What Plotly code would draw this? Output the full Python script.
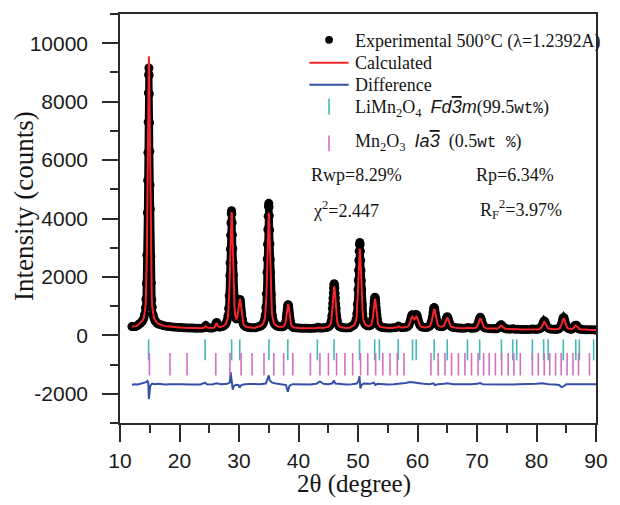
import plotly.graph_objects as go

# ---------------- data ----------------
two_theta_obs = [
    12.0, 12.25, 12.5, 12.75, 13.0, 13.2, 13.45, 13.7, 13.85, 14.03, 14.15, 14.28, 14.36, 14.44, 14.52, 14.6, 14.65, 14.69, 14.73, 14.77, 14.81, 14.85,
    14.89, 14.93, 14.97, 15.01, 15.05, 15.1, 15.18, 15.26, 15.34, 15.42, 15.55, 15.67, 15.85, 16.0, 16.25, 16.5,
    16.75, 17.25, 17.75, 18.25, 18.75, 19.25, 19.75, 20.25, 20.75, 21.25, 21.75, 22.25, 22.75, 23.25, 23.75, 24.1, 24.4, 24.7, 25.1, 25.5, 25.9, 26.1, 26.25, 26.45, 26.75, 27.15, 27.35,
    27.55, 27.75, 27.9, 28.05, 28.15, 28.25, 28.35, 28.45, 28.5, 28.55, 28.6, 28.65, 28.7, 28.75,
    28.8, 28.85, 28.9, 28.95, 29.0, 29.05, 29.15, 29.25, 29.35, 29.45, 29.55, 29.65, 29.75, 29.85, 29.9, 29.95, 30.0, 30.05, 30.1, 30.15, 30.2, 30.25, 30.3, 30.35, 30.4, 30.45, 30.55, 30.65, 30.75, 30.85, 31.0, 31.15, 31.35, 31.55, 31.85,
    32.2, 32.7, 33.0, 33.3, 33.6, 33.8, 34.0, 34.15, 34.3, 34.4, 34.5, 34.6, 34.7, 34.75, 34.8, 34.85, 34.9, 34.95, 35.0,
    35.05, 35.1, 35.15, 35.2, 35.25, 35.3, 35.4, 35.5, 35.6, 35.7, 35.85, 36.0, 36.2, 36.4, 36.7, 37.0,
    37.25, 37.4, 37.55, 37.65, 37.75, 37.85, 37.95, 38.0, 38.05, 38.1, 38.15, 38.2, 38.25, 38.3, 38.35, 38.4, 38.45, 38.5, 38.55, 38.65, 38.75, 38.85, 38.95, 39.1, 39.25, 39.6,
    40.0, 40.5, 41.0, 41.5, 42.0, 42.5, 43.0, 43.3, 43.6, 44.0, 44.3,
    44.6, 44.8, 45.0, 45.15, 45.3, 45.4, 45.5, 45.6, 45.7, 45.75, 45.8, 45.85, 45.9, 45.95, 46.0, 46.05, 46.1, 46.15, 46.2, 46.25, 46.3, 46.4, 46.5, 46.6, 46.7, 46.85, 47.0, 47.2, 47.4, 47.7, 48.1, 48.6,
    48.9, 49.1, 49.3, 49.45, 49.6, 49.7, 49.8, 49.9, 50.0, 50.05, 50.1, 50.15, 50.2, 50.25, 50.3,
    50.35, 50.4, 50.45, 50.5, 50.55, 50.6, 50.7, 50.8, 50.9, 51.0, 51.15, 51.3, 51.5, 51.65, 51.85, 52.0, 52.15, 52.25, 52.35, 52.45, 52.55, 52.6, 52.65, 52.7, 52.75, 52.8, 52.85,
    52.9, 52.95, 53.0, 53.05, 53.1, 53.15, 53.25, 53.35, 53.45, 53.55, 53.7, 53.85, 54.05, 54.25, 54.5, 55.0, 55.5, 56.0, 56.4, 56.8, 57.2, 57.6,
    58.0, 58.3, 58.5, 58.65, 58.75, 58.85, 58.95, 59.05, 59.15, 59.25, 59.35, 59.475, 59.6, 59.7, 59.8, 59.9, 60.0, 60.1, 60.2, 60.3, 60.45, 60.65, 60.95,
    61.3, 61.6, 61.8, 62.0, 62.1, 62.2, 62.3, 62.4, 62.5, 62.6, 62.7, 62.75, 62.8, 62.85, 62.9, 63.0, 63.1, 63.2, 63.3, 63.4, 63.5, 63.6, 63.8,
    64.0, 64.2, 64.3, 64.4, 64.5, 64.6, 64.7, 64.8, 64.9, 65.0, 65.1, 65.2, 65.3, 65.4, 65.5, 65.6, 65.7, 65.85, 66.0, 66.3, 66.7, 67.1, 67.5, 68.0, 68.5, 69.0, 69.3,
    69.55, 69.75, 69.85, 69.95, 70.05, 70.15, 70.25, 70.35, 70.45, 70.55, 70.65, 70.75, 70.85, 70.95, 71.05, 71.15, 71.25, 71.35, 71.55, 71.9, 72.3, 72.7, 73.0,
    73.25, 73.45, 73.65, 73.75, 73.85, 73.95, 74.05, 74.15, 74.25, 74.35, 74.45, 74.65, 74.85, 75.2, 75.6, 76.0, 76.4, 76.9, 77.4, 77.9, 78.4, 78.9, 79.3, 79.7, 80.0,
    80.3, 80.5, 80.7, 80.8, 80.9, 81.0, 81.1, 81.2, 81.3, 81.4, 81.5, 81.6, 81.7, 81.8, 81.9, 82.1, 82.3, 82.7, 83.1,
    83.35, 83.55, 83.75, 83.95, 84.05, 84.15, 84.25, 84.35, 84.45, 84.55, 84.65, 84.75, 84.85, 84.95, 85.05, 85.15, 85.35, 85.55,
    85.75, 85.95, 86.1, 86.2, 86.3, 86.4, 86.5, 86.6, 86.7, 86.8, 86.9, 87.0, 87.1, 87.25, 87.45, 87.8, 88.3, 88.8, 89.3, 89.8, 90.0,
]

intensity_obs = [
    300, 300, 305, 315, 345, 389, 415, 468, 521, 610, 725, 946, 1238, 1778, 2743, 4200, 5300, 6256, 7300, 8300, 8920, 9150,
    8900, 8260, 7280, 6300, 5150, 4320, 2700, 1800, 1220, 960, 720, 615, 515, 470, 412, 390,
    370, 335, 315, 300, 290, 281, 273, 266, 262, 256, 252, 248, 245, 243, 247, 262, 335, 268, 250, 250, 276, 398, 442, 330, 280, 300, 318,
    347, 387, 440, 541, 674, 920, 1358, 2048, 2479, 2953, 3427, 3853, 4163, 4268,
    4165, 3858, 3435, 2963, 2493, 2065, 1381, 952, 718, 603, 563, 576, 645, 790, 860, 955, 1050, 1145, 1212, 1228, 1200, 1125, 1025, 915, 805, 723, 553, 444, 382, 346, 316, 300, 284, 274, 264,
    258, 262, 280, 296, 321, 347, 390, 445, 552, 694, 955, 1421, 2157, 2615, 3120, 3625, 4079, 4409, 4520,
    4400, 4090, 3610, 3130, 2600, 2170, 1410, 960, 690, 555, 445, 390, 347, 321, 300, 292,
    295, 300, 318, 340, 390, 471, 603, 690, 785, 881, 967, 1029, 1050, 1029, 967, 881, 785, 690, 603, 464, 375, 326, 299, 279, 268, 256,
    248, 243, 240, 240, 238, 241, 250, 278, 252, 252, 262,
    269, 278, 294, 313, 352, 402, 496, 662, 925, 1089, 1270, 1450, 1612, 1730, 1770, 1725, 1620, 1440, 1280, 1080, 930, 655, 500, 400, 352, 313, 294, 278, 269, 262, 255, 262,
    305, 323, 353, 392, 467, 564, 743, 1063, 1567, 1880, 2227, 2572, 2883, 3108, 3180,
    3104, 2879, 2569, 2224, 1878, 1565, 1063, 745, 567, 471, 399, 364, 338, 327, 329, 333, 353, 386, 445, 556, 733, 844, 966, 1089, 1198, 1278, 1303,
    1276, 1194, 1083, 959, 835, 723, 541, 428, 363, 328, 300, 286, 275, 268, 260, 252, 252, 258, 268, 318, 272, 268,
    278, 296, 332, 398, 463, 541, 629, 694, 707, 670, 624, 595, 624, 670, 707, 694, 629, 541, 463, 398, 332, 296, 278,
    268, 279, 288, 309, 331, 366, 429, 519, 634, 773, 894, 936, 950, 936, 894, 773, 634, 519, 429, 374, 340, 319, 302,
    297, 303, 312, 329, 361, 409, 469, 543, 608, 638, 606, 540, 466, 405, 357, 320, 300, 283, 276, 265, 254, 248, 244, 246, 268, 245, 250,
    249, 260, 273, 292, 328, 378, 443, 521, 589, 620, 589, 521, 443, 378, 328, 292, 273, 260, 249, 238, 230, 226, 226,
    226, 238, 270, 294, 323, 348, 360, 348, 323, 294, 270, 238, 226, 218, 212, 228, 210, 206, 203, 201, 200, 203, 216, 205, 207,
    214, 223, 246, 273, 310, 358, 416, 467, 490, 467, 416, 358, 310, 273, 255, 235, 218, 208, 206,
    210, 215, 227, 261, 299, 353, 421, 504, 577, 610, 577, 504, 421, 356, 303, 266, 234, 226,
    210, 219, 236, 255, 279, 310, 337, 349, 336, 308, 278, 253, 234, 219, 208, 198, 192, 190, 188, 186, 186,
]

intensity_calc = [
    300, 300, 305, 315, 345, 393, 420, 476, 531, 624, 744, 975, 1281, 1845, 2853, 4444, 5434, 6525, 7617, 8597, 9310, 9550,
    9310, 8597, 7617, 6525, 5434, 4444, 2853, 1845, 1281, 975, 744, 624, 531, 476, 420, 393,
    368, 333, 313, 299, 289, 280, 273, 266, 261, 256, 252, 248, 245, 243, 247, 258, 320, 265, 250, 250, 272, 382, 422, 324, 279, 298, 316,
    346, 385, 438, 538, 669, 912, 1345, 2027, 2454, 2920, 3390, 3810, 4115, 4218,
    4117, 3815, 3397, 2931, 2466, 2043, 1368, 945, 715, 603, 566, 582, 657, 811, 880, 980, 1085, 1185, 1235, 1250, 1225, 1150, 1050, 935, 825, 720, 566, 452, 387, 349, 318, 302, 285, 275, 264,
    258, 261, 278, 291, 315, 339, 379, 430, 529, 660, 901, 1333, 2014, 2438, 2905, 3372, 3792, 4097, 4200,
    4097, 3792, 3372, 2905, 2438, 2014, 1333, 901, 660, 529, 430, 379, 339, 315, 295, 290,
    293, 298, 319, 342, 393, 478, 616, 706, 805, 904, 993, 1058, 1080, 1058, 993, 904, 805, 706, 616, 472, 380, 329, 301, 280, 269, 256,
    248, 243, 240, 240, 239, 241, 250, 270, 252, 252, 261,
    267, 276, 290, 309, 345, 393, 480, 637, 885, 1039, 1209, 1379, 1532, 1643, 1680, 1643, 1532, 1379, 1209, 1039, 885, 637, 480, 393, 345, 309, 290, 276, 267, 260, 254, 262,
    300, 318, 345, 382, 451, 542, 708, 1005, 1473, 1764, 2085, 2406, 2694, 2903, 2970,
    2900, 2690, 2402, 2082, 1762, 1471, 1004, 709, 545, 455, 388, 356, 332, 322, 323, 328, 345, 375, 434, 541, 710, 815, 932, 1048, 1153, 1228, 1253,
    1226, 1150, 1044, 926, 806, 700, 527, 418, 356, 323, 296, 283, 273, 267, 260, 252, 252, 258, 266, 305, 270, 267,
    275, 290, 321, 377, 433, 500, 575, 631, 642, 610, 571, 546, 571, 610, 642, 631, 575, 500, 433, 377, 321, 290, 275,
    267, 278, 286, 305, 326, 358, 416, 500, 607, 736, 848, 887, 900, 887, 848, 736, 607, 500, 416, 364, 334, 314, 298,
    294, 299, 307, 322, 350, 393, 447, 514, 573, 608, 571, 511, 444, 389, 346, 312, 296, 281, 275, 264, 254, 248, 244, 246, 262, 245, 249,
    247, 257, 268, 286, 318, 363, 421, 491, 552, 580, 552, 491, 421, 363, 318, 286, 268, 257, 247, 237, 230, 226, 225,
    224, 234, 261, 280, 304, 325, 335, 325, 304, 280, 261, 234, 224, 217, 212, 222, 210, 206, 203, 201, 200, 203, 212, 205, 207,
    212, 220, 242, 265, 299, 342, 394, 439, 460, 439, 394, 342, 299, 265, 250, 232, 216, 207, 205,
    209, 213, 225, 257, 291, 341, 405, 482, 549, 580, 549, 482, 405, 344, 295, 262, 232, 223,
    208, 217, 232, 249, 271, 299, 323, 334, 322, 298, 270, 248, 231, 217, 207, 197, 191, 189, 187, 185, 185,
]

two_theta_diff = [
    12.0, 12.5, 13.0, 13.5, 14.0, 14.4, 14.6, 14.75, 14.85, 14.95, 15.1, 15.4, 15.8, 16.5, 17.5, 18.5,
    19.5, 20.5, 21.5, 22.5, 23.5, 24.3, 24.6, 25.5, 26.2, 27.0, 28.0, 28.45, 28.6, 28.7, 28.8, 28.95,
    29.1, 29.5, 29.9, 30.1, 30.3, 30.7, 31.5, 32.5, 33.5, 34.5, 34.85, 35.0, 35.15, 35.5, 36.0, 37.0,
    37.9, 38.2, 38.5, 39.0, 40.0, 41.0, 42.0, 43.0, 43.6, 44.2, 45.0, 45.7, 45.95, 46.2, 47.0, 48.0,
    49.0, 49.8, 50.1, 50.25, 50.4, 50.6, 51.0, 52.0, 52.7, 52.9, 53.3, 54.0, 55.0, 56.0, 57.0, 58.0,
    58.8, 59.5, 60.0, 61.0, 62.0, 62.7, 62.9, 63.5, 64.5, 65.0, 66.0, 67.0, 68.0, 69.0, 70.0, 70.5,
    71.0, 72.0, 73.0, 74.0, 75.0, 76.0, 77.0, 78.0, 79.0, 80.0, 81.0, 81.5, 82.0, 83.0, 83.8, 84.2,
    84.6, 85.0, 86.0, 87.0, 88.0, 89.0, 90.0,
]

intensity_diff = [
    -1690, -1670, -1685, -1660, -1640, -1600, -1560, -1620, -2180, -1950, -1720, -1650, -1670, -1660, -1680, -1670,
    -1685, -1675, -1680, -1670, -1680, -1620, -1670, -1680, -1640, -1670, -1660, -1620, -1260, -1450, -1780, -1860,
    -1740, -1690, -1700, -1790, -1720, -1680, -1665, -1675, -1670, -1650, -1480, -1370, -1530, -1610, -1640, -1660,
    -1700, -1930, -1720, -1670, -1680, -1670, -1680, -1660, -1580, -1660, -1670, -1640, -1540, -1650, -1670, -1680,
    -1670, -1650, -1560, -1400, -1820, -1690, -1650, -1660, -1620, -1700, -1660, -1670, -1680, -1670, -1660, -1630,
    -1600, -1620, -1650, -1660, -1670, -1640, -1700, -1670, -1660, -1640, -1670, -1680, -1670, -1675, -1660, -1630,
    -1670, -1675, -1680, -1660, -1675, -1680, -1670, -1675, -1665, -1660, -1640, -1660, -1670, -1680, -1700, -1770,
    -1740, -1670, -1660, -1670, -1675, -1680, -1670,
]

limn2o4_reflections = [
    14.8, 24.3, 28.76, 30.13, 35.03, 38.2, 43.17, 45.97, 50.26, 52.8, 53.6, 56.75, 59.17, 59.78,
    62.8, 65.0, 68.4, 70.45, 74.1, 76.0, 76.67, 79.3, 81.2, 81.95, 84.5, 86.6, 87.2, 89.6,
]

mn2o3_reflections = [
    14.95, 18.4, 21.27, 26.1, 28.48, 30.35, 32.2, 34.2, 35.85, 37.5, 39.04, 42.0, 43.6, 45.03,
    46.4, 47.8, 49.1, 50.43, 51.64, 52.97, 54.17, 55.38, 56.6, 57.74, 62.26, 63.47, 64.62, 65.72,
    66.88, 67.97, 69.08, 70.18, 71.11, 72.05, 73.09, 74.14, 75.24, 76.2, 77.28, 79.3, 80.3, 81.3,
    82.23, 83.2, 84.15, 85.14, 86.13, 87.06, 88.9,
]

y_tick_values = [-2000, 0, 2000, 4000, 6000, 8000, 10000]
x_tick_values = [10, 20, 30, 40, 50, 60, 70, 80, 90]

assert len(two_theta_obs) == len(intensity_obs) == len(intensity_calc), (
    len(two_theta_obs), len(intensity_obs), len(intensity_calc))
assert len(two_theta_diff) == len(intensity_diff)

# ---------------- figure ----------------
W, H = 620, 505
ML, MR, MT, MB = 120, 15, 12, 82
PW, PH = W - ML - MR, H - MT - MB


def px(x):
    return (x - ML) / PW


def py(y):
    return (H - MB - y) / PH


RED = "#f4252b"
BLUE = "#3450a8"
CYAN = "#45b8b6"
PINK = "#d56ec0"
AXC = "#2a2a2a"
SERIF = "Liberation Serif, Times New Roman, serif"
SANS = "Liberation Sans, Arial, sans-serif"

fig = go.Figure()
fig.add_trace(go.Scatter(
    x=two_theta_obs, y=intensity_obs, mode="lines+markers",
    line=dict(color="black", width=7),
    marker=dict(size=9, color="black", line=dict(width=0)), showlegend=False))
fig.add_trace(go.Scatter(
    x=two_theta_obs, y=intensity_calc, mode="lines",
    line=dict(color=RED, width=2), showlegend=False))
fig.add_trace(go.Scatter(
    x=two_theta_diff, y=intensity_diff, mode="lines",
    line=dict(color=BLUE, width=2), showlegend=False))
fig.add_trace(go.Scatter(
    x=limn2o4_reflections, y=[-495] * len(limn2o4_reflections), mode="markers",
    marker=dict(symbol="line-ns", size=15, line=dict(width=1.6, color=CYAN)), showlegend=False))
fig.add_trace(go.Scatter(
    x=mn2o3_reflections, y=[-990] * len(mn2o3_reflections), mode="markers",
    marker=dict(symbol="line-ns", size=16, line=dict(width=1.6, color=PINK)), showlegend=False))

axis_common = dict(
    showline=True, linecolor=AXC, linewidth=1.5, mirror=True,
    ticks="outside", tickcolor=AXC, tickwidth=1.5,
    showgrid=False, zeroline=False,
    tickfont=dict(family=SANS, size=21, color="#1a1a1a"),
)

fig.update_xaxes(
    range=[10, 90], tickmode="array", tickvals=x_tick_values,
    ticktext=[str(v) for v in x_tick_values], ticklen=17, ticklabelstandoff=1,
    minor=dict(ticks="outside", tickmode="linear", tick0=15, dtick=10, ticklen=8,
               tickcolor=AXC, tickwidth=1.5),
    **axis_common)
fig.update_yaxes(
    range=[-3000, 11000], tickmode="array", tickvals=y_tick_values,
    ticktext=[str(v) for v in y_tick_values], ticklen=16, ticklabelstandoff=10,
    minor=dict(ticks="outside", tickmode="linear", tick0=-3000, dtick=2000, ticklen=8,
               tickcolor=AXC, tickwidth=1.5),
    **axis_common)

shapes = [
    dict(type="circle", xref="paper", yref="paper",
         x0=px(329), x1=px(337), y0=py(42), y1=py(34), fillcolor="black", line=dict(width=0)),
    dict(type="line", xref="paper", yref="paper", x0=px(313), x1=px(353), y0=py(61), y1=py(61),
         line=dict(color=RED, width=2)),
    dict(type="line", xref="paper", yref="paper", x0=px(313), x1=px(353), y0=py(83), y1=py(83),
         line=dict(color=BLUE, width=2)),
    dict(type="line", xref="paper", yref="paper", x0=px(333), x1=px(333), y0=py(97), y1=py(113),
         line=dict(color=CYAN, width=1.6)),
    dict(type="line", xref="paper", yref="paper", x0=px(333), x1=px(333), y0=py(134), y1=py(150),
         line=dict(color=PINK, width=1.6)),
]
fig.update_layout(shapes=shapes)

FS = 18


def note(x, y, text, size=FS, family=SERIF, angle=0, xanchor="left"):
    fig.add_annotation(
        x=px(x), y=py(y), xref="paper", yref="paper", text=text, showarrow=False,
        xanchor=xanchor, yanchor="middle", textangle=angle,
        font=dict(family=family, size=size, color="#151515"))


sans_i = "<span style='font-family:Liberation Sans, Arial, sans-serif'><i>%s</i></span>"
over3 = "<span style='text-decoration:overline'>3</span>"
mono = "<span style='font-family:Liberation Mono, Courier New, monospace;font-size:16px'>%s</span>"

note(357, 40, "Experimental 500\u00b0C (\u03bb=1.2392A)")
note(357, 61, "Calculated")
note(357, 83, "Difference")
note(357, 107, "LiMn<sub>2</sub>O<sub>4</sub>  " + (sans_i % ("Fd" + over3 + "m")) + "(99.5" + (mono % "wt%") + ")")
note(357, 141, "Mn<sub>2</sub>O<sub>3</sub>  " + (sans_i % ("Ia" + over3)) + "  (0.5" + (mono % "wt %") + ")")
note(313, 174, "Rwp=8.29%")
note(481, 174, "Rp=6.34%")
note(315, 208, "\u03c7<sup>2</sup>=2.447")
note(485, 208, "R<sub>F</sub><sup>2</sup>=3.97%")

note(22, 205, "Intensity (counts)", size=27, angle=-90, xanchor="center")
note(358, 484, "2\u03b8 (degree)", size=25, xanchor="center")

fig.update_layout(
    width=W, height=H,
    margin=dict(l=ML, r=MR, t=MT, b=MB, pad=0),
    paper_bgcolor="white", plot_bgcolor="white",
    showlegend=False,
)

fig.write_html("out.html")
